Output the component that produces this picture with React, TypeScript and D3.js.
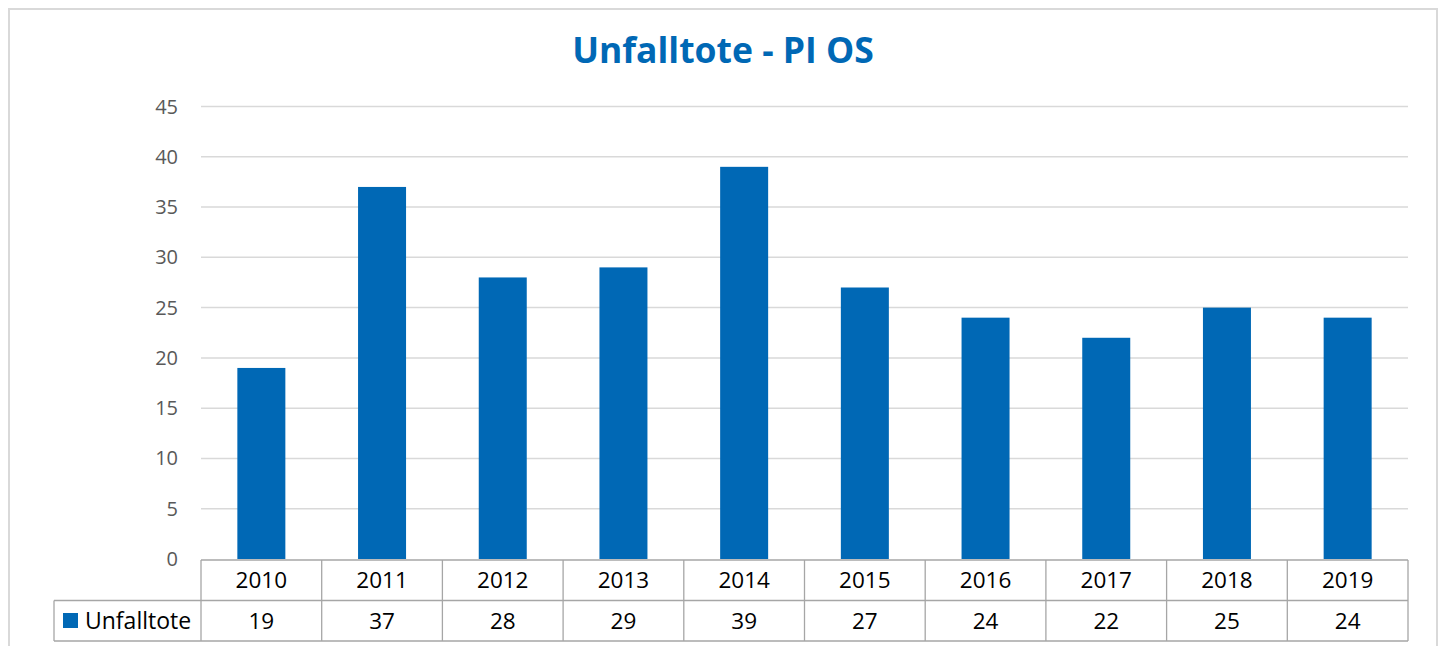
import { useEffect, useRef } from "react";
import * as d3 from "d3";

const years = ["2010", "2011", "2012", "2013", "2014", "2015", "2016", "2017", "2018", "2019"];
const unfalltote = [19, 37, 28, 29, 39, 27, 24, 22, 25, 24];
const yTicks = [0, 5, 10, 15, 20, 25, 30, 35, 40, 45];
const seriesName = "Unfalltote";
const title = "Unfalltote - PI OS";

export default function App() {
  const ref = useRef<SVGSVGElement>(null);

  useEffect(() => {
    draw();
    // eslint-disable-next-line
  }, []);

  function draw() {
    const svg = d3.select(ref.current);
    svg.selectAll("*").remove();

    const left = 201, right = 1408, top = 106.5, bottom = 559;
    const blue = "#0068B5";
    const font = "'Open Sans', sans-serif";

    // chart frame
    svg.append("rect")
      .attr("x", 9).attr("y", 9)
      .attr("width", 1428).attr("height", 660)
      .attr("fill", "white")
      .attr("stroke", "#d9d9d9").attr("stroke-width", 2);

    svg.append("text")
      .attr("x", 723).attr("y", 63)
      .attr("text-anchor", "middle")
      .attr("font-family", font)
      .attr("font-weight", "bold")
      .attr("font-size", 35.5)
      .attr("fill", blue)
      .text(title);

    const band = d3.scaleBand().domain(years).range([left, right]);
    const y = d3.scaleLinear().domain([0, 45]).range([bottom, top]);

    svg.append("g").selectAll("line")
      .data(yTicks.slice(1))
      .enter().append("line")
      .attr("x1", left).attr("x2", right)
      .attr("y1", d => y(d)).attr("y2", d => y(d))
      .attr("stroke", "#d9d9d9").attr("stroke-width", 1.5);

    svg.append("g").selectAll("text")
      .data(yTicks)
      .enter().append("text")
      .attr("x", 178).attr("y", d => y(d) + 7)
      .attr("text-anchor", "end")
      .attr("font-family", font)
      .attr("font-size", 20)
      .attr("fill", "#595959")
      .text(d => d);

    svg.append("g").selectAll("rect")
      .data(unfalltote)
      .enter().append("rect")
      .attr("x", (d, i) => band(years[i])! + (band.bandwidth() - 48) / 2)
      .attr("width", 48)
      .attr("y", d => y(d))
      .attr("height", d => bottom - y(d))
      .attr("fill", blue);

    // data table
    const rowH = 40.5;
    const r1 = 560, r2 = r1 + rowH, r3 = r2 + rowH;
    const tbl = svg.append("g").attr("stroke", "#a6a6a6").attr("stroke-width", 1.3);
    tbl.append("line").attr("x1", left).attr("x2", right).attr("y1", r1).attr("y2", r1);
    tbl.append("line").attr("x1", 54).attr("x2", right).attr("y1", r2).attr("y2", r2);
    tbl.append("line").attr("x1", 54).attr("x2", right).attr("y1", r3).attr("y2", r3);
    tbl.append("line").attr("x1", 54).attr("x2", 54).attr("y1", r2).attr("y2", r3);
    tbl.selectAll(".v")
      .data([...years.map(d => band(d)!), right])
      .enter().append("line")
      .attr("x1", d => d).attr("x2", d => d)
      .attr("y1", r1).attr("y2", r3);

    svg.append("g").selectAll("text")
      .data(years)
      .enter().append("text")
      .attr("x", d => band(d)! + band.bandwidth() / 2)
      .attr("y", r1 + 28)
      .attr("text-anchor", "middle")
      .attr("font-family", font)
      .attr("font-size", 22.5)
      .attr("fill", "#000")
      .text(d => d);

    svg.append("g").selectAll("text")
      .data(unfalltote)
      .enter().append("text")
      .attr("x", (d, i) => band(years[i])! + band.bandwidth() / 2)
      .attr("y", r2 + 28)
      .attr("text-anchor", "middle")
      .attr("font-family", font)
      .attr("font-size", 22.5)
      .attr("fill", "#000")
      .text(d => d);

    svg.append("rect")
      .attr("x", 63).attr("y", 613)
      .attr("width", 15).attr("height", 15)
      .attr("fill", blue);
    svg.append("text")
      .attr("x", 85).attr("y", r2 + 28)
      .attr("font-family", font)
      .attr("font-size", 23)
      .attr("fill", "#000")
      .text(seriesName);
  }

  return (
    <svg ref={ref} width={1440} height={646} style={{ position: "absolute", left: 0, top: 0 }}></svg>
  );
}
